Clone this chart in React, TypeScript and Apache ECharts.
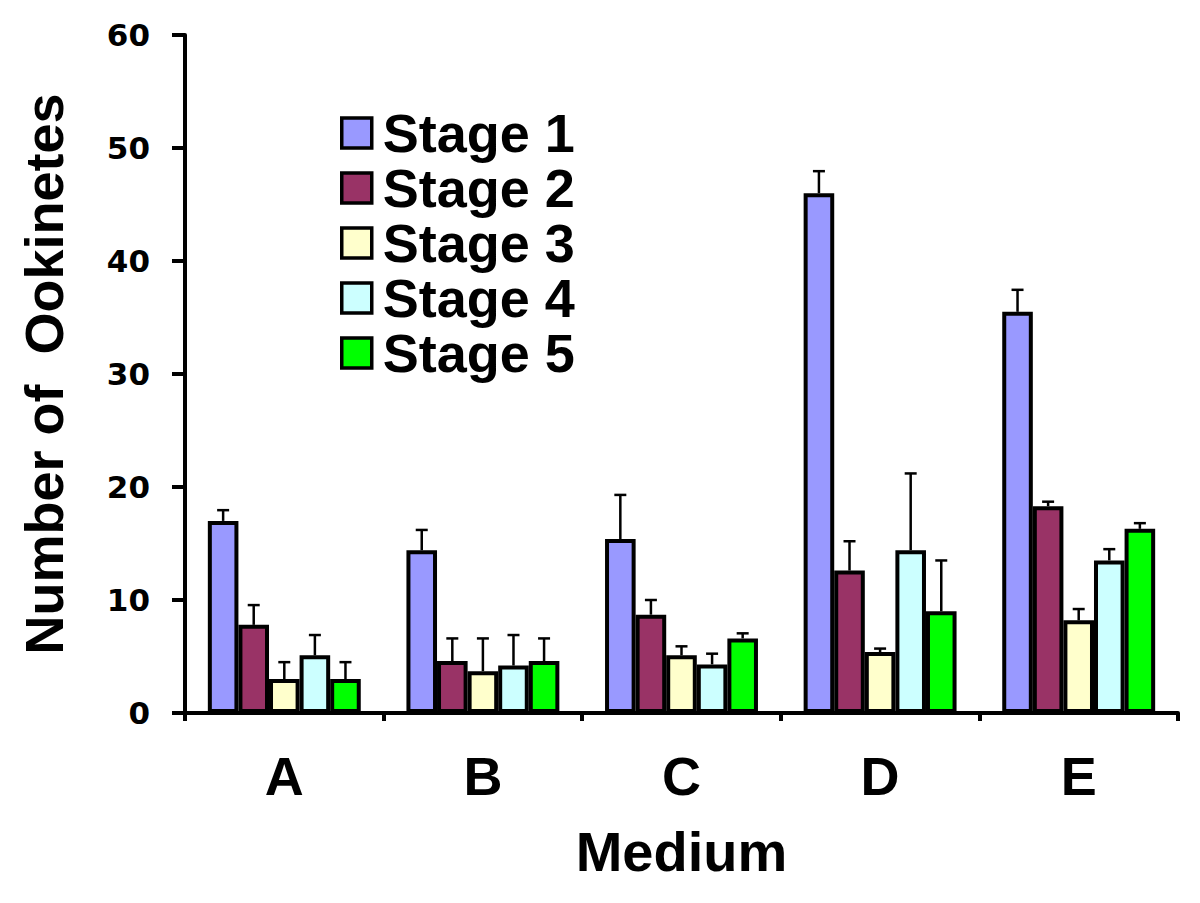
import React, { useEffect, useRef } from "react";
import * as echarts from "echarts";

const categories = ["A", "B", "C", "D", "E"];
const stageNames = ["Stage 1", "Stage 2", "Stage 3", "Stage 4", "Stage 5"];
const stage1 = [17.0, 14.4, 15.4, 46.0, 35.5];
const stage2 = [7.8, 4.6, 8.7, 12.6, 18.3];
const stage3 = [3.0, 3.7, 5.1, 5.4, 8.2];
const stage4 = [5.1, 4.2, 4.3, 14.4, 13.5];
const stage5 = [3.0, 4.6, 6.6, 9.0, 16.3];
const err1 = [0.95, 1.8, 3.9, 1.95, 1.95];
const err2 = [1.75, 2.0, 1.3, 2.6, 0.4];
const err3 = [1.5, 2.9, 0.8, 0.3, 1.0];
const err4 = [1.8, 2.7, 0.95, 6.8, 1.0];
const err5 = [1.5, 2.0, 0.45, 4.5, 0.5];
const yTicks = { min: 0, max: 60, interval: 10 };

const values = [stage1, stage2, stage3, stage4, stage5];
const errors = [err1, err2, err3, err4, err5];
const colors = ["#9999FF", "#993366", "#FFFFCC", "#CCFFFF", "#00FF00"];
const GAP = 0.23;

export default function App() {
  const ref = useRef<HTMLDivElement>(null);
  useEffect(() => {
    if (!ref.current) return;
    const chart = echarts.init(ref.current, null, { renderer: "svg" });
    const n = stageNames.length;
    const barSeries = stageNames.map((name, i) => ({
      type: "bar",
      name,
      data: values[i],
      barGap: "0%",
      barCategoryGap: GAP * 100 + "%",
      itemStyle: { color: colors[i], borderColor: "#000", borderWidth: 4 },
      z: 2,
    }));
    const errSeries = stageNames.map((name, s) => ({
      type: "custom",
      name: "err" + (s + 1),
      data: values[s].map((v, c) => [c, v, v + errors[s][c]]),
      encode: { x: 0, y: [1, 2] },
      z: 1,
      renderItem: (params: any, api: any) => {
        const c = api.value(0);
        const v = api.value(1);
        const hi = api.value(2);
        const band = api.size([1, 0])[0];
        const used = band * (1 - GAP);
        const bw = used / n;
        const x = api.coord([c, 0])[0] - used / 2 + (s + 0.5) * bw;
        const yTop = api.coord([c, v])[1];
        const yHi = api.coord([c, hi])[1];
        const style = { stroke: "#000", lineWidth: 2.5 };
        return {
          type: "group",
          children: [
            { type: "line", shape: { x1: x, y1: yTop, x2: x, y2: yHi }, style },
            { type: "line", shape: { x1: x - 6, y1: yHi, x2: x + 6, y2: yHi }, style },
          ],
        };
      },
    }));
    chart.setOption({
      animation: false,
      backgroundColor: "#fff",
      grid: { left: 185, right: 22, top: 35, bottom: 190, containLabel: false },
      legend: {
        data: stageNames,
        orient: "vertical",
        left: 335,
        top: 101,
        itemWidth: 30,
        itemHeight: 30,
        itemGap: 1,
        icon: "rect",
        itemStyle: { borderColor: "#000", borderWidth: 3.5 },
        textStyle: {
          fontFamily: "Liberation Sans",
          fontWeight: "bold",
          fontSize: 54,
          lineHeight: 50,
          color: "#000",
          padding: [0, 0, 0, 6],
        },
      },
      xAxis: {
        type: "category",
        data: categories,
        name: "Medium",
        nameLocation: "middle",
        nameGap: 110,
        nameTextStyle: { fontFamily: "Liberation Sans", fontWeight: "bold", fontSize: 56, color: "#000" },
        axisLine: { lineStyle: { color: "#000", width: 4 } },
        axisTick: { show: true, length: 8, lineStyle: { color: "#000", width: 4 } },
        axisLabel: { fontFamily: "Liberation Sans", fontWeight: "bold", fontSize: 54, color: "#000", margin: 36 },
      },
      yAxis: {
        type: "value",
        min: yTicks.min,
        max: yTicks.max,
        interval: yTicks.interval,
        name: "Number of  Ookinetes",
        nameLocation: "middle",
        nameGap: 114,
        nameRotate: 90,
        nameTextStyle: { fontFamily: "Liberation Sans", fontWeight: "bold", fontSize: 54, color: "#000" },
        axisLine: { show: true, lineStyle: { color: "#000", width: 4 } },
        axisTick: { show: true, length: 13, lineStyle: { color: "#000", width: 4 } },
        splitLine: { show: false },
        axisLabel: { fontFamily: "DejaVu Sans", fontWeight: "bold", fontSize: 31, color: "#000", margin: 35 },
      },
      series: [...barSeries, ...errSeries],
    });
    return () => chart.dispose();
  }, []);
  return (
    <div
      ref={ref}
      style={{ position: "fixed", left: 0, top: 0, width: 1200, height: 903, background: "#fff" }}
    />
  );
}
